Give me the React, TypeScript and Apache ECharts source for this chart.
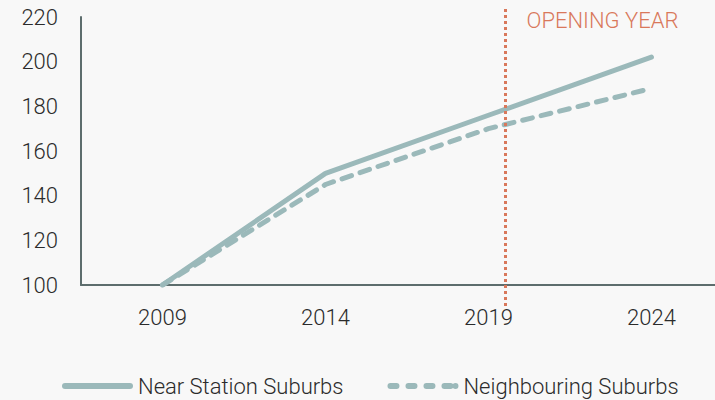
import React, { useEffect, useRef } from "react";
import * as echarts from "echarts";

const years = [2009, 2014, 2019, 2024];
const nearStation = [100, 150, 176, 202];
const neighbouring = [100, 145, 170, 188];
const yTicks = [100, 120, 140, 160, 180, 200, 220];
const openingYear = 2019.5;
const seriesNames = ["Near Station Suburbs", "Neighbouring Suburbs"];

const FONT = "Roboto, 'Noto Sans', sans-serif";
const LINE_COLOR = "#9bb9ba";
const ORANGE = "#d9785b";
const TEXT_COLOR = "#2b2b2b";

function pill(s: number, e: number, h: number) {
  const r = h / 2;
  return `M${s + r},0 H${e - r} A${r},${r} 0 0 1 ${e - r},${h} H${s + r} A${r},${r} 0 0 1 ${s + r},0 Z `;
}
const SOLID_ICON = "path://" + pill(0, 71, 6);
const DASH_ICON =
  "path://" +
  pill(0, 12, 6) +
  pill(18, 30, 6) +
  pill(36, 48, 6) +
  pill(54, 66, 6) +
  pill(65, 71, 6).replace(/^M65/, "M68");

export default function App() {
  const ref = useRef<HTMLDivElement>(null);
  useEffect(() => {
    if (!ref.current) return;
    const chart = echarts.init(ref.current, undefined, { renderer: "svg" });
    chart.setOption({
      animation: false,
      backgroundColor: "#f8f8f8",
      textStyle: { fontFamily: FONT },
      grid: { left: 81, top: 17, height: 268, right: 0 },
      legend: {
        left: 57,
        top: 370,
        itemWidth: 71,
        itemHeight: 6,
        itemGap: 44,
        symbolKeepAspect: false,
        textStyle: { fontSize: 22, color: TEXT_COLOR, fontFamily: FONT, fontWeight: 300 },
        data: [
          { name: seriesNames[0], icon: SOLID_ICON },
          { name: seriesNames[1], icon: DASH_ICON },
        ],
      },
      xAxis: {
        type: "value",
        min: 2006.5,
        max: 2025.95,
        axisLine: { show: true, lineStyle: { color: "#5d6d6d", width: 2 } },
        axisTick: { show: false },
        splitLine: { show: false },
        axisLabel: {
          customValues: years,
          margin: 21,
          fontSize: 22,
          color: TEXT_COLOR,
          fontFamily: FONT,
          fontWeight: 300,
          formatter: (v: number) => String(v),
        },
      },
      yAxis: {
        type: "value",
        min: yTicks[0],
        max: yTicks[yTicks.length - 1],
        interval: 20,
        axisLine: { show: true, lineStyle: { color: "#5d6d6d", width: 2 } },
        axisTick: { show: false },
        splitLine: { show: false },
        axisLabel: { margin: 23, fontSize: 22, color: TEXT_COLOR, fontFamily: FONT, fontWeight: 300 },
      },
      series: [
        {
          name: seriesNames[0],
          type: "line",
          symbol: "none",
          data: years.map((y, i) => [y, nearStation[i]]),
          lineStyle: { color: LINE_COLOR, width: 5, cap: "round", join: "round" },
          itemStyle: { color: LINE_COLOR },
        },
        {
          name: seriesNames[1],
          type: "line",
          symbol: "none",
          data: years.map((y, i) => [y, neighbouring[i]]),
          lineStyle: { color: LINE_COLOR, width: 5, type: [10, 9], cap: "round", join: "round" },
          itemStyle: { color: LINE_COLOR },
        },
      ],
    });
    const px = Math.round(chart.convertToPixel({ xAxisIndex: 0 }, openingYear) as number) + 0.5;
    chart.setOption({
      graphic: [
        {
          type: "line",
          shape: { x1: px, y1: 9, x2: px, y2: 308 },
          style: { stroke: ORANGE, lineWidth: 3, lineDash: [3, 3] },
          z: 10,
        },
        {
          type: "text",
          x: px + 21,
          y: 20,
          style: {
            text: "OPENING YEAR",
            fill: ORANGE,
            fontSize: 22,
            fontFamily: FONT,
            fontWeight: 300,
            verticalAlign: "middle",
            textAlign: "left",
          },
          z: 10,
        },
      ],
    });
    return () => chart.dispose();
  }, []);
  return (
    <div
      ref={ref}
      style={{ position: "fixed", left: 0, top: 0, width: 715, height: 400 }}
    />
  );
}
